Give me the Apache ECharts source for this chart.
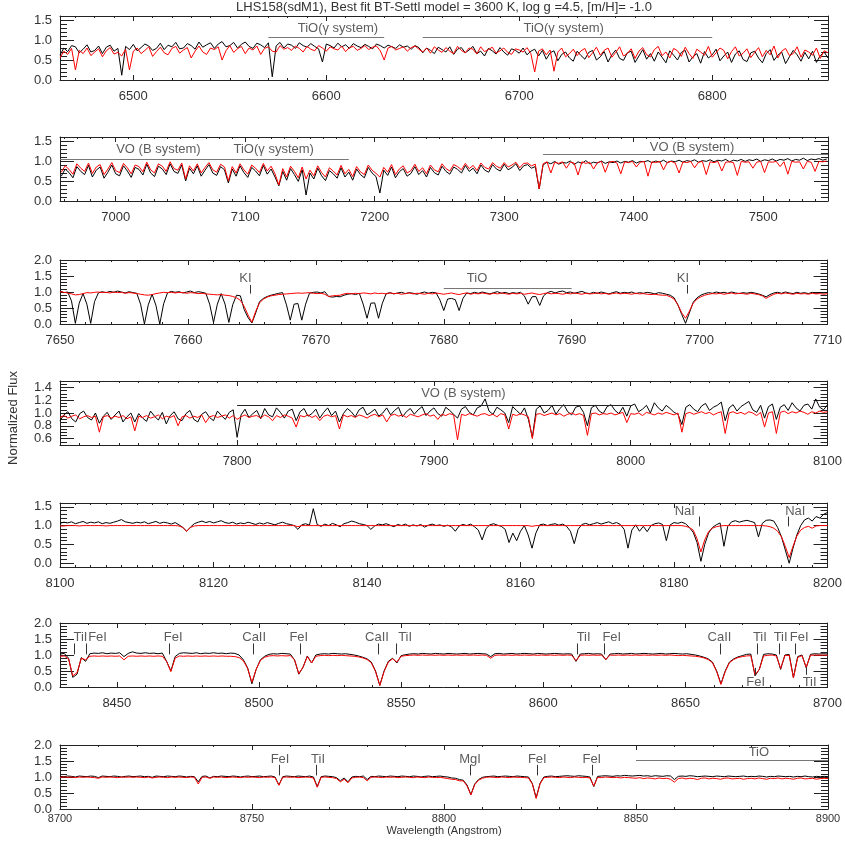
<!DOCTYPE html>
<html>
<head>
<meta charset="utf-8">
<title>LHS158 BT-Settl fit</title>
<script src="https://cdn.jsdelivr.net/npm/echarts@6/dist/echarts.min.js"></script>
<style>
  html, body { margin: 0; padding: 0; background: #fff; }
  #chart { width: 845px; height: 845px; }
</style>
</head>
<body>
<div id="chart"></div>
<script>
// spectra are sampled on a regular wavelength grid: start + i * step (Angstrom)

// panel 1: 6462 - 6860
const p1Start = 6462, p1Step = 2
const p1Obs = [
  0.62,0.80,0.71,0.86,0.83,0.68,0.77,0.88,0.70,0.74,0.85,0.66,0.82,0.87,0.72,0.79,0.12,0.84,0.76,0.89,
  0.73,0.81,0.90,0.85,0.74,0.79,0.92,0.76,0.87,0.83,0.94,0.78,0.80,0.91,0.86,0.77,0.95,0.82,0.88,0.93,
  0.79,0.90,0.96,0.83,0.86,0.94,0.80,0.89,0.95,0.84,0.79,0.92,0.88,0.81,0.93,0.08,0.85,0.94,0.80,0.90,
  0.87,0.79,0.93,0.86,0.82,0.91,0.84,0.78,0.45,0.90,0.86,0.80,0.92,0.83,0.88,0.79,0.91,0.85,0.81,0.89,
  0.84,0.78,0.90,0.86,0.80,0.87,0.83,0.79,0.88,0.82,0.85,0.77,0.86,0.81,0.68,0.80,0.74,0.66,0.82,0.76,
  0.70,0.83,0.64,0.77,0.81,0.68,0.75,0.84,0.66,0.72,0.60,0.79,0.73,0.65,0.81,0.70,0.62,0.78,0.74,0.67,
  0.80,0.63,0.72,0.77,0.60,0.74,0.52,0.68,0.73,0.48,0.64,0.70,0.55,0.47,0.72,0.61,0.52,0.69,0.74,0.50,
  0.58,0.71,0.45,0.63,0.75,0.54,0.49,0.68,0.72,0.44,0.60,0.76,0.52,0.66,0.47,0.70,0.57,0.43,0.73,0.62,
  0.50,0.69,0.74,0.45,0.58,0.66,0.42,0.71,0.55,0.63,0.77,0.48,0.60,0.70,0.44,0.65,0.73,0.51,0.46,0.68,
  0.72,0.55,0.43,0.66,0.76,0.49,0.62,0.70,0.41,0.58,0.74,0.63,0.47,0.69,0.53,0.72,0.44,0.61,0.70,0.55
]
const p1Model = [
  0.55,0.72,0.64,0.79,0.25,0.74,0.66,0.80,0.61,0.70,0.78,0.58,0.73,0.81,0.65,0.69,0.60,0.77,0.25,0.72,
  0.80,0.66,0.74,0.83,0.59,0.71,0.82,0.68,0.63,0.79,0.84,0.67,0.75,0.81,0.55,0.72,0.85,0.70,0.64,0.80,
  0.76,0.83,0.50,0.73,0.86,0.69,0.78,0.84,0.66,0.80,0.75,0.85,0.64,0.79,0.83,0.72,0.70,0.86,0.77,0.81,
  0.74,0.85,0.79,0.70,0.84,0.77,0.73,0.86,0.80,0.72,0.83,0.78,0.75,0.85,0.71,0.81,0.84,0.74,0.79,0.86,
  0.76,0.82,0.85,0.73,0.50,0.80,0.84,0.75,0.79,0.83,0.72,0.81,0.85,0.77,0.70,0.80,0.67,0.83,0.75,0.69,
  0.81,0.72,0.66,0.84,0.74,0.68,0.80,0.77,0.65,0.83,0.71,0.76,0.82,0.67,0.73,0.80,0.69,0.64,0.78,0.75,
  0.70,0.81,0.66,0.20,0.72,0.78,0.63,0.75,0.22,0.70,0.80,0.58,0.66,0.77,0.61,0.73,0.79,0.56,0.68,0.82,
  0.62,0.74,0.80,0.57,0.69,0.83,0.60,0.66,0.78,0.54,0.72,0.81,0.63,0.58,0.76,0.84,0.61,0.70,0.55,0.79,
  0.73,0.59,0.82,0.66,0.54,0.77,0.70,0.62,0.84,0.57,0.68,0.80,0.74,0.53,0.71,0.83,0.60,0.67,0.78,0.56,
  0.69,0.81,0.58,0.74,0.63,0.85,0.55,0.72,0.79,0.61,0.66,0.83,0.57,0.75,0.70,0.62,0.80,0.54,0.73,0.68
]
const p1XTicks = [6500, 6600, 6700, 6800]
const p1YTicks = [0, 0.5, 1, 1.5]
const p1Bands = [
  { from: 6570, to: 6630, y: 1.07, text: 'TiO(γ system)', at: 6606, ty: 1.3 },
  { from: 6650, to: 6800, y: 1.07, text: 'TiO(γ system)', at: 6723, ty: 1.3 }
]

// panel 2: 6957 - 7550
const p2Start = 6958, p2Step = 3
const p2Obs = [
  0.62,0.80,0.71,0.58,0.86,0.74,0.66,0.89,0.60,0.77,0.85,0.57,0.72,0.90,0.68,0.63,0.88,0.75,0.59,0.84,
  0.79,0.65,0.92,0.70,0.61,0.87,0.80,0.66,0.93,0.74,0.69,0.90,0.50,0.82,0.68,0.88,0.62,0.77,0.91,0.70,
  0.64,0.86,0.78,0.45,0.80,0.62,0.88,0.71,0.59,0.84,0.75,0.63,0.89,0.67,0.80,0.60,0.38,0.74,0.52,0.81,
  0.66,0.49,0.78,0.15,0.70,0.55,0.82,0.63,0.51,0.76,0.68,0.57,0.83,0.60,0.72,0.52,0.80,0.66,0.58,0.84,
  0.70,0.61,0.20,0.77,0.64,0.85,0.58,0.73,0.81,0.62,0.69,0.86,0.66,0.76,0.60,0.84,0.71,0.65,0.87,0.74,
  0.67,0.85,0.79,0.70,0.89,0.74,0.82,0.68,0.90,0.77,0.72,0.91,0.80,0.75,0.92,0.78,0.84,0.93,0.76,0.88,
  0.91,0.82,0.86,0.30,0.90,0.97,0.93,0.99,0.92,0.96,0.95,1.00,0.91,0.98,0.94,1.01,0.93,0.97,0.95,1.00,
  0.94,0.98,0.96,1.00,0.95,0.99,0.97,1.01,0.95,0.99,0.98,1.01,0.96,1.00,0.97,1.02,0.96,1.00,0.98,1.02,
  0.97,1.01,0.99,1.03,0.97,1.01,0.99,1.03,0.98,1.02,1.00,1.04,0.98,1.02,1.00,1.04,0.99,1.03,1.01,1.05,
  0.99,1.03,1.01,1.05,1.00,1.04,1.02,1.06,1.00,1.04,1.02,1.07,1.01,1.05,1.03,1.06,1.02,1.05
]
const p2Model = [
  0.72,0.88,0.79,0.67,0.93,0.82,0.74,0.95,0.69,0.85,0.91,0.66,0.80,0.96,0.76,0.71,0.94,0.83,0.68,0.90,
  0.86,0.73,0.97,0.78,0.70,0.93,0.87,0.74,0.98,0.81,0.77,0.95,0.55,0.88,0.75,0.93,0.70,0.84,0.96,0.78,
  0.72,0.92,0.85,0.50,0.86,0.70,0.93,0.78,0.67,0.90,0.82,0.71,0.94,0.75,0.87,0.68,0.40,0.81,0.60,0.87,
  0.74,0.58,0.85,0.55,0.77,0.63,0.88,0.71,0.60,0.83,0.75,0.65,0.89,0.68,0.79,0.61,0.86,0.73,0.66,0.90,
  0.77,0.69,0.60,0.84,0.72,0.91,0.66,0.80,0.88,0.70,0.76,0.92,0.74,0.83,0.68,0.90,0.78,0.73,0.93,0.81,
  0.75,0.91,0.86,0.78,0.94,0.81,0.89,0.76,0.95,0.84,0.80,0.96,0.87,0.82,0.96,0.85,0.90,0.97,0.83,0.94,
  0.95,0.88,0.92,0.30,0.93,0.98,0.70,0.97,0.94,0.98,0.82,0.97,0.95,0.65,0.98,0.94,0.97,0.80,0.96,0.99,
  0.72,0.97,0.99,0.95,0.68,0.98,0.96,0.99,0.85,0.97,0.99,0.62,0.98,0.96,0.99,0.78,0.97,0.99,0.95,0.70,
  0.98,0.96,0.99,0.83,0.97,0.99,0.66,0.98,0.96,0.99,0.75,0.97,0.98,0.96,0.64,0.99,0.97,0.98,0.82,0.97,
  0.99,0.71,0.98,0.97,0.99,0.86,0.98,0.67,0.99,0.97,0.98,0.80,0.99,0.97,0.74,0.99,0.98,1.00
]
const p2XTicks = [7000, 7100, 7200, 7300, 7400, 7500]
const p2YTicks = [0, 0.5, 1, 1.5]
const p2Bands = [
  { from: 6957, to: 7100, y: 1.05, text: 'VO (B system)', at: 7033, ty: 1.29 },
  { from: 7100, to: 7180, y: 1.05, text: 'TiO(γ system)', at: 7122, ty: 1.29 },
  { from: 7330, to: 7550, y: 1.16, text: 'VO (B system)', at: 7445, ty: 1.34 }
]

// panel 3: 7650 - 7710
const p3Start = 7650, p3Step = 0.3
const p3Obs = [
  1.03,0.98,1.00,0.72,0.02,0.65,0.95,0.62,0.02,0.70,0.97,1.01,0.98,1.02,0.99,1.03,1.00,0.97,1.01,0.98,
  0.96,0.62,0.00,0.60,0.93,0.58,0.00,0.63,0.97,1.02,0.99,1.01,0.97,1.00,1.03,0.98,1.01,0.99,0.96,0.62,
  0.05,0.62,0.95,0.62,0.05,0.60,0.90,0.88,0.45,0.20,0.03,0.35,0.70,0.80,0.86,0.90,0.93,0.96,0.98,0.60,
  0.12,0.62,0.64,0.12,0.62,0.96,0.99,1.00,0.97,1.01,0.86,0.84,0.86,0.85,0.90,0.93,0.95,0.92,0.96,0.62,
  0.18,0.65,0.66,0.18,0.65,0.95,0.98,0.94,0.97,0.99,0.95,0.98,0.96,0.93,0.97,1.00,0.96,0.99,0.97,0.75,
  0.42,0.78,0.80,0.76,0.42,0.80,0.97,0.95,0.99,0.96,1.00,0.97,0.94,0.98,1.01,0.96,0.99,0.95,0.98,0.96,
  0.99,0.88,0.62,0.85,0.86,0.58,0.88,0.98,1.02,0.97,1.01,1.03,0.98,1.00,0.96,0.99,1.02,0.97,0.95,0.99,
  0.96,1.00,0.97,0.94,0.98,1.01,0.96,0.99,0.97,1.00,0.95,0.98,0.96,0.99,0.97,0.94,0.98,0.96,0.93,0.90,
  0.82,0.60,0.30,0.02,0.35,0.68,0.82,0.90,0.95,0.98,0.96,1.00,0.97,0.99,0.96,1.00,0.97,0.95,0.98,0.96,
  0.99,0.97,0.94,0.90,0.85,0.92,0.97,0.99,0.96,1.00,0.97,0.95,0.99,0.96,0.98,0.95,0.99,0.96,0.98,0.97,0.99
]
const p3Model = [
  1.01,0.99,0.97,0.94,0.91,0.92,0.95,0.98,0.97,0.99,1.00,0.98,0.99,0.97,1.00,0.98,0.99,0.96,0.98,0.97,
  0.95,0.93,0.91,0.90,0.92,0.95,0.97,0.99,0.98,0.99,0.97,0.99,0.98,0.96,0.98,0.97,0.95,0.96,0.94,0.93,
  0.92,0.91,0.92,0.90,0.89,0.86,0.82,0.74,0.55,0.28,0.05,0.40,0.66,0.78,0.84,0.88,0.90,0.92,0.93,0.94,
  0.95,0.96,0.97,0.96,0.97,0.98,0.96,0.95,0.96,0.93,0.86,0.88,0.89,0.90,0.94,0.96,0.94,0.96,0.95,0.97,
  0.96,0.94,0.97,0.95,0.96,0.94,0.97,0.95,0.96,0.93,0.95,0.97,0.94,0.96,0.95,0.93,0.96,0.94,0.97,0.95,
  0.93,0.95,0.97,0.94,0.92,0.95,0.97,0.93,0.96,0.94,0.97,0.95,0.93,0.96,0.94,0.97,0.95,0.93,0.96,0.94,
  0.96,0.93,0.95,0.97,0.94,0.92,0.95,0.97,0.94,0.96,0.95,0.93,0.96,0.94,0.97,0.95,0.93,0.96,0.94,0.95,
  0.97,0.94,0.96,0.93,0.95,0.97,0.94,0.96,0.95,0.93,0.96,0.94,0.95,0.93,0.92,0.93,0.91,0.90,0.90,0.85,
  0.78,0.60,0.35,0.18,0.40,0.65,0.78,0.85,0.90,0.93,0.95,0.94,0.96,0.93,0.95,0.97,0.94,0.96,0.95,0.93,
  0.96,0.94,0.92,0.88,0.80,0.87,0.93,0.96,0.94,0.97,0.95,0.93,0.96,0.94,0.95,0.93,0.96,0.94,0.95,0.93,0.95
]
const p3XTicks = [7650, 7660, 7670, 7680, 7690, 7700, 7710]
const p3YTicks = [0, 0.5, 1, 1.5, 2]
const p3Lines = [
  { lam: 7664.9, name: 'KI', at: 7664.5 },
  { lam: 7699.0, name: 'KI', at: 7698.7 }
]
const p3Bands = [{ from: 7680, to: 7690, y: 1.12, text: 'TiO', at: 7682.6, ty: 1.42 }]

// panel 4: 7710 - 8100
const p4Start = 7710, p4Step = 2
const p4Obs = [
  0.88,0.97,1.02,0.91,0.86,0.99,1.03,0.93,0.89,1.00,0.84,0.95,1.01,0.90,0.97,1.03,0.86,0.94,1.00,0.86,
  0.99,0.92,0.87,1.03,0.95,0.89,1.01,0.83,0.96,1.02,0.91,0.88,0.99,1.04,0.90,0.86,0.98,1.02,0.93,0.88,
  1.03,0.96,0.90,1.01,1.05,0.62,0.97,1.06,0.93,0.99,1.04,0.91,1.07,0.97,0.94,1.08,1.01,0.92,1.03,1.06,
  0.88,1.02,1.07,0.95,0.99,1.06,0.92,1.01,1.08,0.96,1.03,0.86,0.99,1.07,1.02,0.94,1.05,1.09,0.97,1.01,
  1.06,0.95,1.00,1.08,0.97,1.04,1.09,0.94,1.02,1.07,0.98,1.05,1.10,0.96,1.03,1.08,0.99,0.95,1.09,1.04,
  0.98,0.92,1.06,1.10,1.01,0.97,1.08,1.11,1.22,1.03,0.98,1.09,1.05,1.00,0.85,1.10,1.04,0.98,1.08,0.90,
  0.62,1.06,1.11,1.00,1.04,1.12,0.98,1.07,1.13,1.02,0.97,1.09,1.11,1.01,0.80,1.08,1.12,1.03,0.99,1.10,
  1.13,1.04,0.99,1.09,0.95,1.11,1.14,1.02,1.06,1.12,1.00,1.16,1.08,1.03,1.12,1.07,1.01,0.98,0.82,1.09,
  1.13,1.06,1.02,1.11,1.15,1.04,1.09,1.12,1.17,0.88,1.08,1.13,1.03,1.10,1.14,1.18,1.05,1.01,1.12,0.92,
  1.10,1.14,0.90,1.09,1.13,1.04,1.16,1.08,1.03,1.12,1.14,1.06,1.22,1.09,1.05,1.13
]
const p4Model = [
  0.93,0.96,0.92,0.95,0.97,0.91,0.94,0.96,0.93,0.95,0.70,0.94,0.96,0.92,0.95,0.93,0.96,0.91,0.94,0.72,
  0.95,0.93,0.96,0.92,0.94,0.97,0.91,0.95,0.93,0.96,0.80,0.94,0.96,0.92,0.95,0.93,0.97,0.85,0.94,0.96,
  0.93,0.95,0.97,0.92,0.96,0.90,0.94,0.97,0.93,0.95,0.96,0.92,0.97,0.94,0.88,0.96,0.93,0.97,0.95,0.92,
  0.78,0.96,0.94,0.97,0.93,0.96,0.88,0.95,0.97,0.94,0.96,0.75,0.97,0.94,0.96,0.93,0.97,0.95,0.92,0.96,
  0.98,0.94,0.97,0.86,0.96,0.98,0.95,0.97,0.93,0.98,0.96,0.94,0.97,0.99,0.95,0.97,0.90,0.98,0.96,0.99,
  0.97,0.58,0.98,0.96,0.99,0.97,0.95,0.98,0.99,0.96,0.98,0.94,0.99,0.97,0.75,0.98,0.96,0.99,0.97,0.94,
  0.60,0.98,0.99,0.96,0.98,1.00,0.97,0.99,0.95,0.98,1.00,0.97,0.99,0.96,0.65,0.99,1.00,0.97,0.99,0.98,
  1.00,0.97,0.99,1.01,0.85,0.99,0.98,1.00,0.96,1.01,0.99,0.97,1.00,0.98,1.01,0.99,0.97,1.00,0.70,0.99,
  1.01,0.98,1.00,1.02,0.99,1.01,0.97,1.00,1.02,0.68,1.00,1.02,0.99,1.01,0.98,1.02,1.00,0.96,1.01,0.78,
  1.00,1.02,0.68,1.01,1.03,0.99,1.02,1.00,1.03,1.01,0.98,1.02,1.00,1.03,1.01,1.02
]
const p4XTicks = [7800, 7900, 8000, 8100]
const p4YTicks = [0.6, 0.8, 1.0, 1.2, 1.4]
const p4Bands = [{ from: 7800, to: 8000, y: 1.12, text: 'VO (B system)', at: 7915, ty: 1.3 }]

// panel 5: 8100 - 8200
const p5Start = 8100, p5Step = 0.5
const p5Obs = [
  1.06,1.09,1.07,1.10,1.05,1.08,1.11,1.06,1.09,1.07,1.10,1.05,1.08,1.06,1.09,1.12,1.16,1.10,1.08,1.06,
  1.09,1.07,1.10,1.05,1.08,1.11,1.06,1.09,1.07,1.04,1.08,1.02,0.95,0.85,0.96,1.05,1.09,1.12,1.08,1.11,
  1.07,1.10,1.13,1.08,1.06,1.09,1.04,1.07,1.05,1.09,1.06,1.03,1.07,1.04,1.08,1.05,1.02,1.06,1.09,1.05,
  1.03,1.00,0.90,1.02,1.05,1.01,1.45,1.03,0.98,1.04,1.00,1.06,1.02,0.97,1.05,1.08,1.12,1.09,1.05,1.03,
  1.00,0.90,0.99,1.04,1.02,1.05,1.01,0.97,1.03,1.00,1.04,0.98,1.02,0.99,1.03,0.96,1.01,1.04,1.00,1.02,
  0.98,1.01,0.97,0.85,0.99,1.03,1.00,1.04,0.97,0.88,0.62,0.92,1.02,1.05,1.01,0.98,0.90,0.55,0.80,0.60,
  0.85,1.00,0.75,0.40,0.80,1.02,1.04,1.00,1.03,1.05,1.01,1.04,0.98,0.85,0.52,0.90,1.03,1.06,1.02,1.05,
  1.08,1.04,1.07,1.10,1.05,1.08,1.03,0.90,0.40,0.88,1.02,0.85,0.98,0.84,1.00,1.05,1.07,1.03,0.60,1.02,
  1.08,1.06,1.09,1.05,0.95,0.82,0.55,0.05,0.50,0.80,0.95,1.02,1.07,0.45,0.98,1.10,1.13,1.09,1.12,1.14,
  1.11,1.08,0.70,1.06,1.14,1.15,1.12,0.95,0.70,0.35,0.00,0.40,0.75,1.00,1.15,1.20,1.12,1.24,1.20,1.30,1.35
]
const p5Model = [
  0.99,0.99,1,1,1,0.99,1,1,1,1,1,1,0.99,1,1,1,1,1,1,1,
  1,1,1,1,1,1,1,1,1,1,1,0.99,0.95,0.85,0.95,0.99,1,1,1,1,
  1,1,1,1,1,1,1,1,1,1,1,1,1,1,1,1,1,1,1,1,
  1,1,0.97,1,1,1,1,1,1,1,1,1,1,1,1,1,1,1,1,1,
  1,1,1,1,1,1,1,1,1,1,1,1,1,1,1,1,1,1,1,1,
  1,1,1,1,1,1,1,1,1,1,1,1,1,1,1,1,1,1,1,1,
  1,1,1,0.98,1,1,1,1,1,1,1,1,1,1,1,1,1,1,1,1,
  1,1,1,1,1,1,1,1,1,1,1,1,1,1,1,1,1,1,1,1,
  1,1,1,0.98,0.95,0.88,0.65,0.30,0.62,0.84,0.93,0.97,0.99,1,1,1,1,1,1,1,
  1,1,1,1,0.99,0.97,0.93,0.85,0.70,0.45,0.15,0.45,0.72,0.88,0.95,0.98,0.93,0.99,1,1,1
]
const p5XTicks = [8100, 8120, 8140, 8160, 8180, 8200]
const p5YTicks = [0, 0.5, 1, 1.5]
const p5Lines = [
  { lam: 8183.3, name: 'NaI', at: 8181.4 },
  { lam: 8194.9, name: 'NaI', at: 8195.8 }
]

// panel 6: 8430 - 8700
const p6Start = 8430, p6Step = 1.5
const p6Obs = [
  1.03,1.05,0.90,0.30,0.40,0.92,0.80,1.04,1.06,1.05,1.07,1.04,1.06,1.05,1.07,0.95,1.05,1.10,1.06,1.05,
  1.07,1.05,1.06,1.04,1.06,0.80,0.50,0.95,1.05,1.07,1.06,1.05,1.07,1.04,1.06,1.05,1.07,1.05,1.06,1.04,
  1.06,1.05,1.00,0.85,0.60,0.10,0.55,0.85,0.96,1.02,1.04,1.03,1.05,1.04,1.03,0.85,0.40,0.62,0.97,0.75,
  1.00,1.03,1.04,1.03,1.05,1.04,1.03,1.04,1.02,1.00,0.97,0.93,0.88,0.78,0.50,0.05,0.50,0.80,0.90,0.75,
  0.98,1.01,1.03,1.04,1.03,1.05,1.04,1.03,1.05,1.04,1.03,1.05,1.04,1.03,1.04,1.05,1.03,1.04,1.05,1.04,
  1.03,0.95,1.04,1.05,1.03,1.04,1.05,1.03,1.04,1.05,1.04,1.03,1.05,1.04,1.03,1.04,1.05,1.04,1.03,1.04,
  1.03,0.80,1.03,1.04,1.05,1.03,1.04,1.03,0.85,1.03,1.04,1.05,1.03,1.04,1.05,1.03,1.04,1.05,1.04,1.03,
  1.04,1.05,1.03,1.04,1.05,1.04,1.03,1.04,1.02,1.00,0.97,0.93,0.88,0.78,0.50,0.10,0.50,0.78,0.88,0.94,
  0.98,1.02,1.03,0.35,0.55,1.02,1.04,1.03,1.00,0.55,1.00,1.02,0.30,0.95,1.00,0.60,1.02,1.04,1.03,1.04,1.03
]
const p6Model = [
  0.96,0.97,0.88,0.35,0.45,0.90,0.85,0.96,0.97,0.96,0.97,0.96,0.97,0.96,0.97,0.85,0.96,0.97,0.96,0.97,
  0.96,0.97,0.96,0.97,0.96,0.80,0.48,0.90,0.97,0.96,0.97,0.96,0.97,0.96,0.97,0.96,0.97,0.96,0.97,0.96,
  0.96,0.95,0.92,0.82,0.58,0.15,0.55,0.83,0.93,0.97,0.98,0.97,0.98,0.97,0.98,0.85,0.42,0.62,0.95,0.75,
  0.96,0.98,0.99,0.98,0.99,0.98,0.99,0.98,0.97,0.96,0.94,0.91,0.86,0.76,0.48,0.05,0.48,0.78,0.88,0.78,
  0.96,0.98,0.99,1.00,0.99,1.00,0.99,1.00,0.99,1.00,0.99,1.00,0.99,1.00,0.99,1.00,0.99,1.00,0.99,1.00,
  0.99,0.90,0.99,1.00,0.99,1.00,0.99,1.00,0.99,1.00,0.99,1.00,0.99,1.00,0.99,1.00,0.99,1.00,0.99,1.00,
  0.99,0.82,0.99,1.00,0.99,1.00,0.99,1.00,0.86,1.00,0.99,1.00,0.99,1.00,0.99,1.00,0.99,1.00,0.99,1.00,
  0.99,1.00,0.99,1.00,0.99,0.98,0.99,0.98,0.97,0.96,0.94,0.91,0.86,0.76,0.48,0.08,0.48,0.76,0.86,0.92,
  0.95,0.97,0.98,0.38,0.55,0.97,0.99,1.00,0.97,0.58,0.98,0.99,0.28,0.92,0.98,0.62,0.99,1.00,0.99,1.00,0.99
]
const p6XTicks = [8450, 8500, 8550, 8600, 8650, 8700]
const p6YTicks = [0, 0.5, 1, 1.5, 2]
const p6Lines = [
  { lam: 8435.0, name: 'TiI', at: 8437.2 },
  { lam: 8439.1, name: 'FeI', at: 8443.2 },
  { lam: 8468.5, name: 'FeI', at: 8469.8 },
  { lam: 8498.0, name: 'CaII', at: 8498.3 },
  { lam: 8514.4, name: 'FeI', at: 8514.0 },
  { lam: 8542.1, name: 'CaII', at: 8541.5 },
  { lam: 8548.2, name: 'TiI', at: 8551.4 },
  { lam: 8612.1, name: 'TiI', at: 8614.2 },
  { lam: 8621.6, name: 'FeI', at: 8624.1 },
  { lam: 8662.1, name: 'CaII', at: 8662.0 },
  { lam: 8675.3, name: 'TiI', at: 8676.2 },
  { lam: 8682.9, name: 'TiI', at: 8683.5 },
  { lam: 8688.6, name: 'FeI', at: 8690.0 }
]
const p6LinesBelow = [
  { lam: 8674.7, name: 'FeI', at: 8674.7 },
  { lam: 8692.4, name: 'TiI', at: 8693.7 }
]

// panel 7: 8700 - 8900
const p7Start = 8700, p7Step = 1
const p7Obs = [
  1.02,1.01,1.03,1.02,1.00,1.03,1.02,1.01,1.03,1.02,0.98,1.03,1.02,1.01,1.03,1.02,1.00,1.02,1.03,1.01,
  1.02,1.03,1.01,1.02,0.99,1.03,1.02,1.01,1.03,1.02,1.01,1.03,1.02,1.00,1.02,1.01,0.85,1.02,1.03,0.97,
  1.02,1.01,1.03,1.02,1.01,1.03,1.02,1.00,1.02,1.03,1.01,1.02,1.03,1.01,1.02,1.03,1.00,0.75,1.01,1.03,
  1.02,1.01,1.03,1.02,1.01,1.03,1.00,0.70,1.01,1.03,1.02,1.01,0.98,0.88,0.97,0.85,1.00,1.02,1.01,1.03,
  0.92,1.02,1.01,1.03,1.02,1.01,1.03,1.02,1.01,1.03,1.02,1.01,1.03,1.02,1.00,1.02,1.03,1.01,1.02,1.03,
  1.01,1.00,0.97,0.96,0.92,0.90,0.75,0.45,0.78,0.92,0.99,1.01,1.02,1.03,1.01,1.02,1.03,1.02,1.01,1.03,
  1.02,1.01,1.00,0.80,0.35,0.80,1.00,1.02,1.03,1.01,1.02,1.03,1.04,1.03,1.02,1.04,1.03,1.02,1.00,0.70,
  1.02,1.03,1.04,1.03,1.02,1.04,1.03,1.05,1.04,1.03,1.04,1.05,1.03,1.04,1.02,1.04,1.03,1.02,1.04,1.03,
  0.92,1.02,1.03,1.02,1.04,1.03,1.01,1.02,1.03,1.02,1.01,1.03,1.02,1.01,1.03,1.02,1.01,1.02,1.03,1.01,
  1.02,1.01,1.03,1.02,1.00,1.02,1.01,1.03,1.02,1.01,1.02,1.00,1.02,1.01,1.03,1.01,1.00,1.02,1.01,1.02,1.01
]
const p7Model = [
  0.99,1.00,0.99,1.00,0.98,1.00,0.99,1.00,0.99,0.98,0.96,1.00,0.99,1.00,0.99,0.98,1.00,0.99,1.00,0.99,
  1.00,0.99,0.98,1.00,0.97,0.99,1.00,0.99,0.98,1.00,0.99,1.00,0.99,0.98,1.00,0.99,0.78,0.99,1.00,0.96,
  1.00,0.99,1.00,0.98,0.99,1.00,0.99,0.98,1.00,0.99,1.00,0.99,0.98,1.00,0.99,1.00,0.98,0.74,0.99,1.00,
  0.99,1.00,0.98,0.99,1.00,0.99,0.97,0.68,0.99,1.00,0.99,0.98,0.95,0.85,0.93,0.82,0.97,0.99,1.00,0.98,
  0.88,0.99,1.00,0.99,0.98,1.00,0.99,1.00,0.98,0.99,1.00,0.99,0.98,1.00,0.99,0.98,1.00,0.99,0.98,0.99,
  0.97,0.95,0.93,0.92,0.88,0.88,0.72,0.44,0.76,0.90,0.96,0.99,1.00,0.99,0.98,1.00,0.99,0.98,1.00,0.99,
  0.99,0.98,0.97,0.78,0.33,0.78,0.98,0.99,1.00,0.99,0.98,1.00,0.99,0.98,1.00,0.99,0.98,0.99,0.97,0.72,
  0.99,0.98,1.00,0.99,0.98,0.99,0.97,0.99,0.98,0.97,0.96,0.98,0.95,0.97,0.96,0.94,0.97,0.95,0.96,0.93,
  0.84,0.95,0.97,0.94,0.96,0.95,0.92,0.96,0.97,0.94,0.96,0.95,0.93,0.96,0.97,0.94,0.95,0.96,0.93,0.95,
  0.96,0.94,0.97,0.95,0.93,0.96,0.95,0.97,0.94,0.96,0.95,0.93,0.96,0.97,0.94,0.95,0.96,0.93,0.95,0.96,0.95
]
const p7XTicks = [8700, 8750, 8800, 8850, 8900]
const p7YTicks = [0, 0.5, 1, 1.5, 2]
const p7Lines = [
  { lam: 8757.2, name: 'FeI', at: 8757.3 },
  { lam: 8766.7, name: 'TiI', at: 8767.2 },
  { lam: 8806.8, name: 'MgI', at: 8806.8 },
  { lam: 8824.3, name: 'FeI', at: 8824.3 },
  { lam: 8838.5, name: 'FeI', at: 8838.5 }
]
const p7Bands = [{ from: 8850, to: 8900, y: 1.52, text: 'TiO', at: 8882, ty: 1.77 }]

const titleText = 'LHS158(sdM1), Best fit BT-Settl model = 3600 K, log g =4.5, [m/H]= -1.0'
const yTitle = 'Normalized Flux'
const xTitle = 'Wavelength (Angstrom)'

const FONT = '"Liberation Sans", Arial, sans-serif'
const INK = '#333'
const FRAME = '#222'

const panels = [
  { top: 16, start: p1Start, step: p1Step, obs: p1Obs, model: p1Model, xMin: 6462, xMax: 6860, xTicks: p1XTicks, xMinor: 10,
    yMin: 0, yMax: 1.6, yTicks: p1YTicks, yMinor: 0.1, bands: p1Bands, bandColor: '#777' },
  { top: 137, start: p2Start, step: p2Step, obs: p2Obs, model: p2Model, xMin: 6957, xMax: 7550, xTicks: p2XTicks, xMinor: 10,
    yMin: 0, yMax: 1.6, yTicks: p2YTicks, yMinor: 0.1, bands: p2Bands, bandColor: '#777' },
  { top: 260, start: p3Start, step: p3Step, obs: p3Obs, model: p3Model, xMin: 7650, xMax: 7710, xTicks: p3XTicks, xMinor: 2,
    yMin: 0, yMax: 2, yTicks: p3YTicks, yMinor: 0.1, bands: p3Bands, bandColor: '#777',
    lines: p3Lines, markTop: 1.22, markBottom: 0.95, labelY: 1.42 },
  { top: 381, start: p4Start, step: p4Step, obs: p4Obs, model: p4Model, xMin: 7710, xMax: 8100, xTicks: p4XTicks, xMinor: 10,
    yMin: 0.5, yMax: 1.5, yTicks: p4YTicks, yMinor: 0.05, bands: p4Bands, bandColor: '#222' },
  { top: 503, start: p5Start, step: p5Step, obs: p5Obs, model: p5Model, xMin: 8100, xMax: 8200, xTicks: p5XTicks, xMinor: 2,
    yMin: -0.1, yMax: 1.6, yTicks: p5YTicks, yMinor: 0.1,
    lines: p5Lines, markTop: 1.24, markBottom: 0.98, labelY: 1.38 },
  { top: 623, start: p6Start, step: p6Step, obs: p6Obs, model: p6Model, xMin: 8430, xMax: 8700, xTicks: p6XTicks, xMinor: 10,
    yMin: 0, yMax: 2, yTicks: p6YTicks, yMinor: 0.1,
    lines: p6Lines, markTop: 1.36, markBottom: 1.02, labelY: 1.55,
    below: p6LinesBelow, belowTop: 0.6, belowBottom: 0.38, belowLabelY: 0.15 },
  { top: 745, start: p7Start, step: p7Step, obs: p7Obs, model: p7Model, xMin: 8700, xMax: 8900, xTicks: p7XTicks, xMinor: 10,
    yMin: 0, yMax: 2, yTicks: p7YTicks, yMinor: 0.1, bands: p7Bands, bandColor: '#777',
    lines: p7Lines, markTop: 1.38, markBottom: 1.05, labelY: 1.55, smallLabels: true }
]

const PANEL_H = 64

function minorValues(min, max, step) {
  const out = []
  for (let k = Math.ceil(min / step - 1e-6); k * step <= max + 1e-6; k++) out.push(+(k * step).toFixed(4))
  return out
}

function spectrum(start, step, flux) {
  return flux.map((f, i) => [+(start + i * step).toFixed(2), f])
}

const grid = [], xAxis = [], yAxis = [], series = []

panels.forEach((p, k) => {
  grid.push({ left: 60, right: 17, top: p.top, height: PANEL_H })

  const xBase = {
    gridIndex: k, type: 'value', min: p.xMin, max: p.xMax,
    splitLine: { show: false },
    axisLine: { show: true, onZero: false, lineStyle: { color: FRAME, width: 1 } }
  }
  const xMinors = minorValues(p.xMin, p.xMax, p.xMinor)
  const xi = xAxis.length
  xAxis.push({
    ...xBase, position: 'bottom',
    axisTick: { show: true, inside: true, length: 5, customValues: p.xTicks, lineStyle: { color: FRAME } },
    axisLabel: {
      show: true, customValues: p.xTicks, color: INK, fontFamily: FONT,
      fontSize: p.smallLabels ? 11 : 13, margin: p.smallLabels ? 4 : 10,
      formatter: v => String(v)
    }
  })
  xAxis.push({
    ...xBase, position: 'top',
    axisTick: { show: true, inside: true, length: 5, customValues: p.xTicks, lineStyle: { color: FRAME } },
    axisLabel: { show: false }
  })
  ;['bottom', 'top'].forEach(pos => xAxis.push({
    ...xBase, position: pos, axisLine: { show: false, onZero: false },
    axisTick: { show: true, inside: true, length: 2, customValues: xMinors, lineStyle: { color: FRAME } },
    axisLabel: { show: false }
  }))

  const yBase = {
    gridIndex: k, type: 'value', min: p.yMin, max: p.yMax,
    splitLine: { show: false },
    axisLine: { show: true, onZero: false, lineStyle: { color: FRAME, width: 1 } }
  }
  const yMinors = minorValues(p.yMin, p.yMax, p.yMinor)
  const yi = yAxis.length
  yAxis.push({
    ...yBase, position: 'left',
    axisTick: { show: true, inside: true, length: 14, customValues: p.yTicks, lineStyle: { color: FRAME } },
    axisLabel: {
      show: true, customValues: p.yTicks, color: INK, fontFamily: FONT, fontSize: 13, margin: 8,
      formatter: v => v.toFixed(1)
    }
  })
  yAxis.push({
    ...yBase, position: 'right',
    axisTick: { show: true, inside: true, length: 14, customValues: p.yTicks, lineStyle: { color: FRAME } },
    axisLabel: { show: false }
  })
  ;['left', 'right'].forEach(pos => yAxis.push({
    ...yBase, position: pos, axisLine: { show: false, onZero: false },
    axisTick: { show: true, inside: true, length: 7, customValues: yMinors, lineStyle: { color: FRAME } },
    axisLabel: { show: false }
  }))

  const lineBase = {
    type: 'line', xAxisIndex: xi, yAxisIndex: yi, showSymbol: false, symbol: 'none',
    silent: true, animation: false, clip: true
  }
  series.push({ ...lineBase, name: 'observed', data: spectrum(p.start, p.step, p.obs), lineStyle: { color: '#000', width: 1 }, z: 2 })
  series.push({ ...lineBase, name: 'model', data: spectrum(p.start, p.step, p.model), lineStyle: { color: '#ff0000', width: 1 }, z: 3 })

  // line identifications and molecular band bars
  const marks = [], texts = []
  ;(p.bands || []).forEach(b => {
    marks.push([{ coord: [b.from, b.y], lineStyle: { color: p.bandColor, width: 1 } }, { coord: [b.to, b.y] }])
    texts.push({ value: [b.at, b.ty], label: { formatter: b.text } })
  })
  ;(p.lines || []).forEach(l => {
    marks.push([{ coord: [l.lam, p.markTop] }, { coord: [l.lam, p.markBottom] }])
    texts.push({ value: [l.at, p.labelY], label: { formatter: l.name } })
  })
  ;(p.below || []).forEach(l => {
    marks.push([{ coord: [l.lam, p.belowTop] }, { coord: [l.lam, p.belowBottom] }])
    texts.push({ value: [l.at, p.belowLabelY], label: { formatter: l.name } })
  })
  if (marks.length) {
    series.push({
      type: 'scatter', xAxisIndex: xi, yAxisIndex: yi, data: texts, symbolSize: 0,
      silent: true, animation: false, z: 4,
      label: { show: true, position: 'inside', color: INK, fontSize: 13, fontFamily: FONT },
      markLine: {
        silent: true, animation: false, symbol: ['none', 'none'], label: { show: false },
        lineStyle: { color: '#333', width: 1, type: 'solid' },
        data: marks
      }
    })
  }
})

const chart = echarts.init(document.getElementById('chart'), null, { renderer: 'canvas' })
chart.setOption({
  animation: false,
  backgroundColor: '#fff',
  grid, xAxis, yAxis, series,
  graphic: [
    { type: 'text', x: 444, y: 7, style: { text: titleText, fill: INK, fontSize: 13, fontFamily: FONT, align: 'center', verticalAlign: 'middle' } },
    { type: 'text', x: 13, y: 418, rotation: Math.PI / 2, style: { text: yTitle, fill: INK, fontSize: 13, fontFamily: FONT, align: 'center', verticalAlign: 'middle' } },
    { type: 'text', x: 444, y: 831, style: { text: xTitle, fill: INK, fontSize: 11, fontFamily: FONT, align: 'center', verticalAlign: 'middle' } }
  ]
})
</script>
</body>
</html>
